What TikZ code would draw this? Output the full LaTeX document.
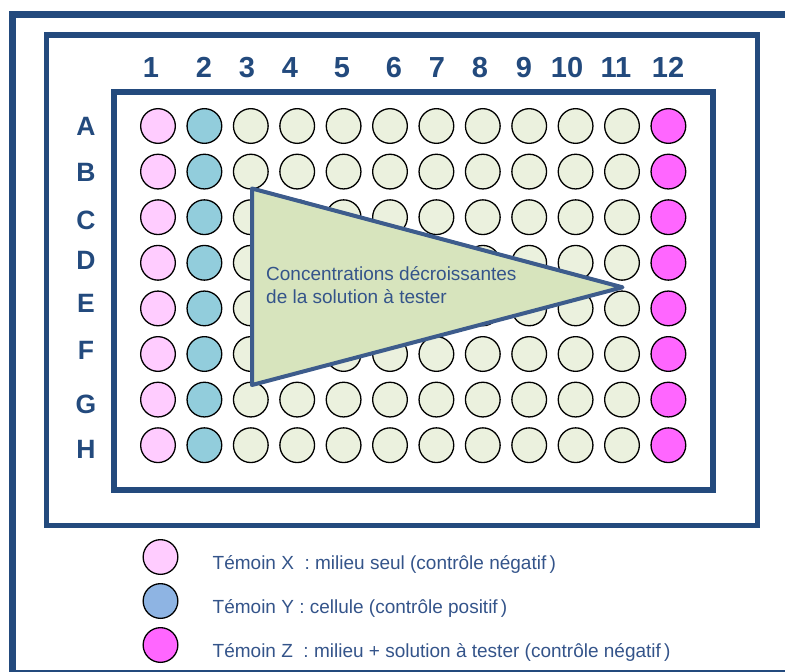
\documentclass[tikz,border=0pt]{standalone}
\usepackage{fontspec}
\setmainfont{Liberation Sans}
\definecolor{plateblue}{RGB}{35,74,125}
\definecolor{textblue}{RGB}{52,84,138}
\definecolor{triblue}{RGB}{61,92,140}
\definecolor{trifill}{RGB}{215,228,189}
\definecolor{wellpink}{RGB}{255,204,255}
\definecolor{wellteal}{RGB}{146,205,220}
\definecolor{wellgreen}{RGB}{235,241,222}
\definecolor{wellmagenta}{RGB}{255,102,255}
\definecolor{legblue}{RGB}{142,180,227}
\usetikzlibrary{positioning}

\begin{document}
\begin{tikzpicture}[x=1pt,y=-1pt,
  well/.style={circle,draw=black,line width=1.3pt,minimum size=34.7pt,inner sep=0pt},
  frame/.style={draw=plateblue},
  collabel/.style={anchor=base,inner sep=0pt,text=plateblue,font=\fontsize{29}{29}\selectfont\bfseries},
  rowlabel/.style={anchor=base,inner sep=0pt,text=plateblue,font=\fontsize{26.5}{26.5}\selectfont\bfseries},
  legtext/.style={base right=34pt of #1,yshift=-12.5pt,inner sep=0pt,text=textblue,font=\fontsize{19}{19}\selectfont}]
  \useasboundingbox (0,0) rectangle (785,672);
  \clip (0,0) rectangle (785,672);
  % plate frames
  \draw[frame,line width=7pt] (12.5,14.5) rectangle (800,673.5);
  \draw[frame,line width=5.5pt] (46.5,35) rectangle (757.5,525.5);
  \draw[frame,line width=6pt] (114,92) rectangle (712.5,489.5);
  % column and row labels
  \foreach \c/\x in {1/151,2/204,3/247,4/290,5/342,6/394,7/437,8/480,9/524,10/567,11/616,12/668}
    \node[collabel] (col\c) at (\x,77) {\c};
  \foreach \r/\y in {A/126,B/172,C/220,D/260,E/303,F/350,G/404,H/449}
    \node[rowlabel] (row\r) at (86,\y+9.7) {\r};
  % wells
  \foreach \c/\col in {1/wellpink,2/wellteal,3/wellgreen,4/wellgreen,5/wellgreen,6/wellgreen,
      7/wellgreen,8/wellgreen,9/wellgreen,10/wellgreen,11/wellgreen,12/wellmagenta}
    \foreach \r [count=\i from 0] in {A,...,H}
      \node[well,fill=\col] (w\r\c) at ({158+46.4*(\c-1)},{126+45.6*\i}) {};
  % dilution triangle
  \coordinate (tritop) at (252,188.5);
  \coordinate (tribot) at (252,385);
  \coordinate (tritip) at (622.5,287.3);
  \draw[triblue,fill=trifill,line width=4pt,line join=round] (tritop) -- (tritip) -- (tribot) -- cycle;
  \node[anchor=base west,inner sep=0pt,align=left,text=textblue,font=\fontsize{19}{23}\selectfont]
    (tritext) at (266,303) {Concentrations décroissantes\\de la solution à tester};
  % legend
  \node[well,fill=wellpink] (legx) at (160.5,557) {};
  \node[well,fill=legblue] (legy) at (160.5,601) {};
  \node[well,fill=wellmagenta] (legz) at (160.5,645) {};
  \node[legtext=legx] (legxtext) {Témoin X\ \ : milieu\ seul (contrôle négatif\,)};
  \node[legtext=legy] (legytext) {Témoin Y : cellule (contrôle positif\,)};
  \node[legtext=legz] (legztext) {Témoin Z\ \ : milieu + solution à tester (contrôle négatif\,)};
\end{tikzpicture}
\end{document}
